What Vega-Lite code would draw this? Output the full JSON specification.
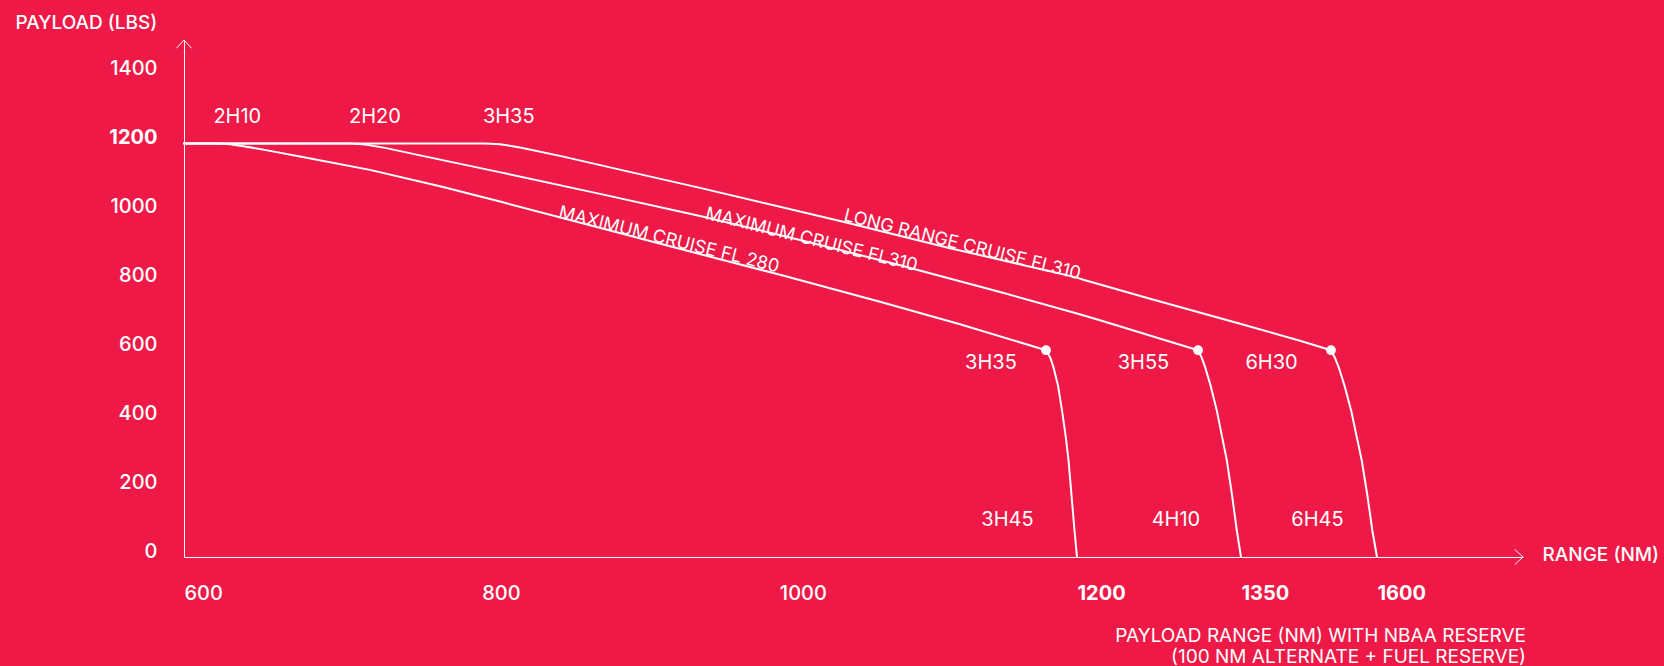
{
  "$schema": "https://vega.github.io/schema/vega-lite/v6.json",
  "width": 1339,
  "height": 517,
  "autosize": {"type": "none"},
  "padding": {"left": 184, "top": 40, "right": 141, "bottom": 109},
  "background": "#EF1947",
  "config": {"view": {"stroke": null}, "font": "Inter"},
  "title": {
    "text": ["PAYLOAD RANGE (NM) WITH NBAA RESERVE", "(100 NM ALTERNATE + FUEL RESERVE)"],
    "orient": "bottom",
    "anchor": "end",
    "frame": "group",
    "align": "right",
    "color": "white",
    "font": "Inter",
    "fontSize": 19,
    "fontWeight": 400,
    "lineHeight": 20.5,
    "offset": 24,
    "dx": 3
  },
  "datasets": {
    "curves": [
      {"curve": "FL280", "i": 0, "range": 600, "payload": 1200},
      {"curve": "FL280", "i": 1, "range": 620.8, "payload": 1200},
      {"curve": "FL280", "i": 2, "range": 629.6, "payload": 1198.3},
      {"curve": "FL280", "i": 3, "range": 641.0, "payload": 1191.3},
      {"curve": "FL280", "i": 4, "range": 657.8, "payload": 1178.3},
      {"curve": "FL280", "i": 5, "range": 677.9, "payload": 1162.3},
      {"curve": "FL280", "i": 6, "range": 724.9, "payload": 1123.2},
      {"curve": "FL280", "i": 7, "range": 772.0, "payload": 1075.4},
      {"curve": "FL280", "i": 8, "range": 814.3, "payload": 1029.0},
      {"curve": "FL280", "i": 9, "range": 872.8, "payload": 962.3},
      {"curve": "FL280", "i": 10, "range": 926.5, "payload": 901.4},
      {"curve": "FL280", "i": 11, "range": 1001.8, "payload": 817.4},
      {"curve": "FL280", "i": 12, "range": 1067.6, "payload": 740.6},
      {"curve": "FL280", "i": 13, "range": 1121.4, "payload": 675.4},
      {"curve": "FL280", "i": 14, "range": 1179.2, "payload": 600},
      {"curve": "FL280", "i": 15, "range": 1181.9, "payload": 579.7},
      {"curve": "FL280", "i": 16, "range": 1184.2, "payload": 550.7},
      {"curve": "FL280", "i": 17, "range": 1187.2, "payload": 498.6},
      {"curve": "FL280", "i": 18, "range": 1189.9, "payload": 426.1},
      {"curve": "FL280", "i": 19, "range": 1192.3, "payload": 353.6},
      {"curve": "FL280", "i": 20, "range": 1194.3, "payload": 281.2},
      {"curve": "FL280", "i": 21, "range": 1196.3, "payload": 179.7},
      {"curve": "FL280", "i": 22, "range": 1198.3, "payload": 78.3},
      {"curve": "FL280", "i": 23, "range": 1200, "payload": 0},
      {"curve": "MC310", "i": 0, "range": 600, "payload": 1200},
      {"curve": "MC310", "i": 1, "range": 711.5, "payload": 1200},
      {"curve": "MC310", "i": 2, "range": 721.6, "payload": 1197.1},
      {"curve": "MC310", "i": 3, "range": 735.1, "payload": 1187.0},
      {"curve": "MC310", "i": 4, "range": 758.6, "payload": 1165.2},
      {"curve": "MC310", "i": 5, "range": 814.3, "payload": 1114.5},
      {"curve": "MC310", "i": 6, "range": 879.5, "payload": 1053.6},
      {"curve": "MC310", "i": 7, "range": 946.7, "payload": 989.6},
      {"curve": "MC310", "i": 8, "range": 1013.9, "payload": 920.0},
      {"curve": "MC310", "i": 9, "range": 1081.1, "payload": 846.7},
      {"curve": "MC310", "i": 10, "range": 1148.3, "payload": 768.7},
      {"curve": "MC310", "i": 11, "range": 1200, "payload": 706.4},
      {"curve": "MC310", "i": 12, "range": 1221.0, "payload": 687.0},
      {"curve": "MC310", "i": 13, "range": 1310.7, "payload": 600},
      {"curve": "MC310", "i": 14, "range": 1313.9, "payload": 579.7},
      {"curve": "MC310", "i": 15, "range": 1317.1, "payload": 551.6},
      {"curve": "MC310", "i": 16, "range": 1322.1, "payload": 498.6},
      {"curve": "MC310", "i": 17, "range": 1327.8, "payload": 426.1},
      {"curve": "MC310", "i": 18, "range": 1332.4, "payload": 353.6},
      {"curve": "MC310", "i": 19, "range": 1337.0, "payload": 281.2},
      {"curve": "MC310", "i": 20, "range": 1341.8, "payload": 179.7},
      {"curve": "MC310", "i": 21, "range": 1346.1, "payload": 78.3},
      {"curve": "MC310", "i": 22, "range": 1350, "payload": 0},
      {"curve": "LRC310", "i": 0, "range": 600, "payload": 1200},
      {"curve": "LRC310", "i": 1, "range": 802.2, "payload": 1200},
      {"curve": "LRC310", "i": 2, "range": 812.3, "payload": 1197.7},
      {"curve": "LRC310", "i": 3, "range": 825.8, "payload": 1188.4},
      {"curve": "LRC310", "i": 4, "range": 852.6, "payload": 1163.8},
      {"curve": "LRC310", "i": 5, "range": 895.0, "payload": 1121.7},
      {"curve": "LRC310", "i": 6, "range": 946.7, "payload": 1071.0},
      {"curve": "LRC310", "i": 7, "range": 1040.8, "payload": 975.0},
      {"curve": "LRC310", "i": 8, "range": 1114.7, "payload": 896.0},
      {"curve": "LRC310", "i": 9, "range": 1181.9, "payload": 829.0},
      {"curve": "LRC310", "i": 10, "range": 1200, "payload": 810.5},
      {"curve": "LRC310", "i": 11, "range": 1205.8, "payload": 804.2},
      {"curve": "LRC310", "i": 12, "range": 1266.8, "payload": 749.3},
      {"curve": "LRC310", "i": 13, "range": 1350, "payload": 676.2},
      {"curve": "LRC310", "i": 14, "range": 1458.5, "payload": 627.5},
      {"curve": "LRC310", "i": 15, "range": 1515.4, "payload": 600},
      {"curve": "LRC310", "i": 16, "range": 1522.8, "payload": 577.7},
      {"curve": "LRC310", "i": 17, "range": 1529.8, "payload": 549.6},
      {"curve": "LRC310", "i": 18, "range": 1540.4, "payload": 496.5},
      {"curve": "LRC310", "i": 19, "range": 1552.6, "payload": 424.1},
      {"curve": "LRC310", "i": 20, "range": 1562.3, "payload": 351.6},
      {"curve": "LRC310", "i": 21, "range": 1572.1, "payload": 279.1},
      {"curve": "LRC310", "i": 22, "range": 1582.4, "payload": 177.7},
      {"curve": "LRC310", "i": 23, "range": 1591.5, "payload": 76.2},
      {"curve": "LRC310", "i": 24, "range": 1600, "payload": 0}
    ],
    "dots": [
      {"curve": "FL280", "range": 1179.2, "payload": 600},
      {"curve": "MC310", "range": 1310.7, "payload": 600},
      {"curve": "LRC310", "range": 1515.4, "payload": 600}
    ],
    "times": [
      {"label": "2H10", "range": 635.8, "payload": 1276},
      {"label": "2H20", "range": 728.3, "payload": 1276},
      {"label": "3H35", "range": 818.2, "payload": 1276},
      {"label": "3H35", "range": 1142.2, "payload": 562},
      {"label": "3H55", "range": 1260.8, "payload": 562},
      {"label": "6H30", "range": 1406.1, "payload": 562},
      {"label": "3H45", "range": 1153.3, "payload": 106},
      {"label": "4H10", "range": 1290.5, "payload": 106},
      {"label": "6H45", "range": 1490.6, "payload": 106}
    ],
    "curveLabels": [
      {"label": "MAXIMUM CRUISE FL 280", "range": 924.9, "payload": 905.2},
      {"label": "MAXIMUM CRUISE FL310", "range": 1020.7, "payload": 905.2},
      {"label": "LONG RANGE CRUISE FL310", "range": 1122.1, "payload": 890.7}
    ],
    "arrowUp": [{"range": 600, "payload": 1500}],
    "arrowRight": [{"range": 1700, "payload": 0}]
  },
  "encoding": {
    "x": {
      "field": "range",
      "type": "quantitative",
      "scale": {"domain": [600, 1200, 1350, 1600, 1700], "range": [0, 893, 1057, 1193, 1339], "nice": false, "zero": false},
      "axis": {
        "values": [600, 800, 1000, 1200, 1350, 1600],
        "format": "d",
        "title": "RANGE (NM)",
        "titleX": 1358,
        "titleY": -3,
        "titleAlign": "left",
        "titleBaseline": "middle",
        "titleAngle": 0,
        "titleColor": "white",
        "titleFont": "Inter",
        "titleFontSize": 19,
        "titleFontWeight": 500,
        "domainColor": "white",
        "domainWidth": 1,
        "ticks": false,
        "grid": false,
        "labelColor": "white",
        "labelFont": "Inter",
        "labelFontSize": 20,
        "labelAlign": "left",
        "labelBaseline": "middle",
        "labelPadding": 36,
        "labelFlush": false,
        "labelOverlap": false,
        "labelBound": false,
        "labelFontWeight": {"condition": {"test": "datum.value >= 1200", "value": 700}, "value": 500}
      }
    },
    "y": {
      "field": "payload",
      "type": "quantitative",
      "scale": {"domain": [0, 1500], "nice": false, "zero": true},
      "axis": {
        "values": [0, 200, 400, 600, 800, 1000, 1200, 1400],
        "format": "d",
        "title": "PAYLOAD (LBS)",
        "titleX": -169,
        "titleY": -18,
        "titleAlign": "left",
        "titleBaseline": "middle",
        "titleAngle": 0,
        "titleColor": "white",
        "titleFont": "Inter",
        "titleFontSize": 19,
        "titleFontWeight": 500,
        "domainColor": "white",
        "domainWidth": 1,
        "ticks": false,
        "grid": false,
        "labelColor": "white",
        "labelFont": "Inter",
        "labelFontSize": 20,
        "labelAlign": "right",
        "labelBaseline": "alphabetic",
        "labelPadding": 27,
        "labelFlush": false,
        "labelOverlap": false,
        "labelBound": false,
        "labelFontWeight": {"condition": {"test": "datum.value == 1200", "value": 700}, "value": 500}
      }
    }
  },
  "layer": [
    {
      "data": {"name": "curves"},
      "mark": {"type": "line", "color": "white", "strokeWidth": 2, "strokeJoin": "round", "strokeCap": "round", "interpolate": "linear"},
      "encoding": {
        "detail": {"field": "curve", "type": "nominal"},
        "order": {"field": "i", "type": "quantitative"}
      }
    },
    {
      "data": {"name": "dots"},
      "mark": {"type": "circle", "color": "white", "size": 95, "opacity": 1}
    },
    {
      "data": {"name": "times"},
      "mark": {"type": "text", "color": "white", "font": "Inter", "fontSize": 20, "fontWeight": 400, "align": "center", "baseline": "middle"},
      "encoding": {"text": {"field": "label", "type": "nominal"}}
    },
    {
      "data": {"name": "curveLabels"},
      "mark": {"type": "text", "color": "white", "font": "Inter", "fontSize": 18, "fontWeight": 400, "align": "center", "baseline": "alphabetic", "angle": 14},
      "encoding": {"text": {"field": "label", "type": "nominal"}}
    },
    {
      "data": {"name": "arrowUp"},
      "mark": {"type": "point", "shape": "M -1 1.1 L 0 0 L 1 1.1", "filled": false, "stroke": "white", "strokeWidth": 1, "size": 225, "opacity": 1}
    },
    {
      "data": {"name": "arrowRight"},
      "mark": {"type": "point", "shape": "M -1.1 -1 L 0 0 L -1.1 1", "filled": false, "stroke": "white", "strokeWidth": 1, "size": 225, "opacity": 1}
    }
  ]
}
